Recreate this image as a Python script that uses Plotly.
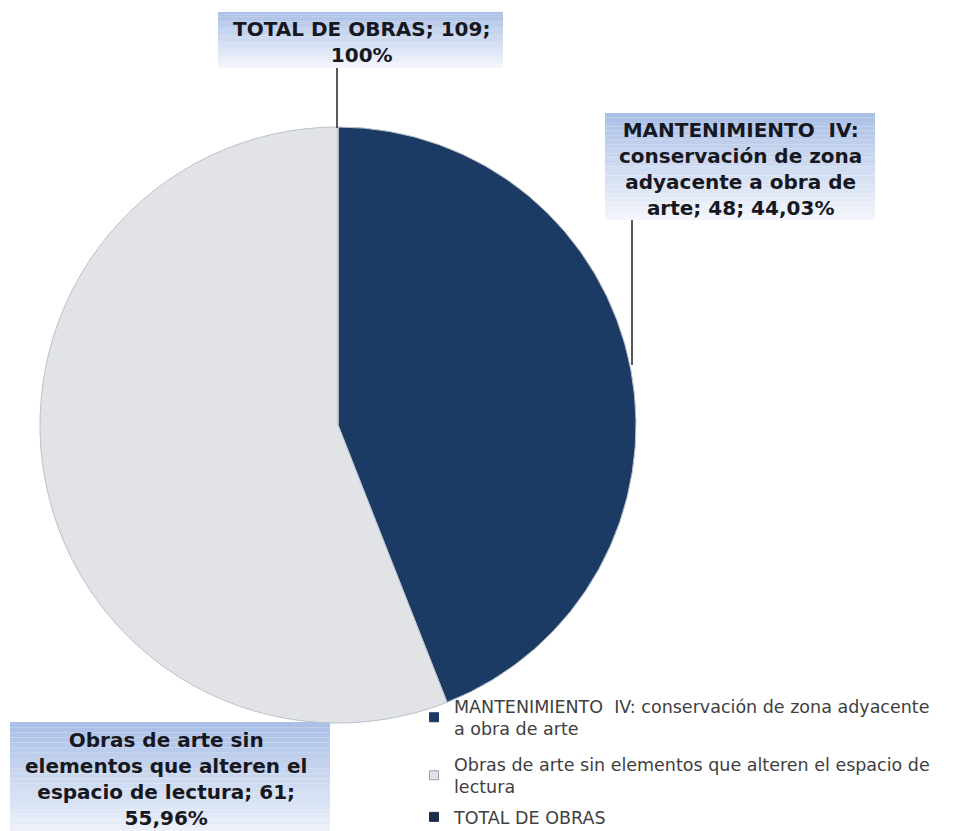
import plotly.graph_objects as go

W, H = 953, 831
OFF = 8  # page body margin of the html output

labels = [
    "MANTENIMIENTO  IV: conservación de zona adyacente<br>a obra de arte",
    "Obras de arte sin elementos que alteren el espacio de<br>lectura",
    "TOTAL DE OBRAS",
]
values = [48, 61, 0]
colors = ["#1b3a64", "#e2e3e6", "#1b2d4a"]

box_texts = [
    "TOTAL DE OBRAS; 109;<br>100%",
    "MANTENIMIENTO  IV:<br>conservación de zona<br>adyacente a obra de<br>arte; 48; 44,03%",
    "Obras de arte sin<br>elementos que alteren el<br>espacio de lectura; 61;<br>55,96%",
]
# label boxes in pixel coords: x0, y0, x1, y1, and text centre
boxes = [(218, 12, 503, 68), (605, 113, 875, 220), (10, 722, 330, 845)]
text_centres = [(361, 42), (740, 169), (166, 779)]


def px(x):
    return (x - OFF) / W


def py(y):
    return 1 - (y - OFF) / H


def mix(c1, c2, t):
    a = [int(c1[i:i + 2], 16) for i in (1, 3, 5)]
    b = [int(c2[i:i + 2], 16) for i in (1, 3, 5)]
    return "#%02x%02x%02x" % tuple(round(a[k] + (b[k] - a[k]) * t) for k in range(3))


fig = go.Figure()
fig.add_trace(go.Pie(
    labels=labels,
    values=values,
    sort=False,
    direction="clockwise",
    rotation=0,
    textinfo="none",
    hoverinfo="label+value+percent",
    showlegend=False,
    marker=dict(colors=colors, line=dict(color="#bac1cc", width=1)),
    domain=dict(x=[px(338 - 299), px(338 + 299)], y=[py(425 + 298), py(425 - 298)]),
))

# legend entries, one legend each so the gaps can follow the original
legend_names = ["legend", "legend2", "legend3"]
legend_tops = [688, 746, 799]
for lab, col, lg in zip(labels, colors, legend_names):
    fig.add_trace(go.Scatter(
        x=[None], y=[None], mode="markers", name=lab, legend=lg,
        marker=dict(symbol="square", size=9, color=col,
                    line=dict(color="#9aa3b3" if col == "#e2e3e6" else col, width=1)),
    ))

shapes = []
annotations = []
for (x0, y0, x1, y1), (tx, ty), txt in zip(boxes, text_centres, box_texts):
    n = 24
    for i in range(n):
        ya = y0 + (y1 - y0) * i / n
        yb = y0 + (y1 - y0) * (i + 1) / n
        shapes.append(dict(type="rect", xref="paper", yref="paper",
                           x0=px(x0), x1=px(x1), y0=py(yb), y1=py(ya),
                           fillcolor=mix("#abc0e6", "#f2f5fb", i / (n - 1)),
                           line=dict(width=0), layer="below"))
    annotations.append(dict(
        xref="paper", yref="paper", x=px(tx), y=py(ty),
        xanchor="center", yanchor="middle", showarrow=False, text="<b>" + txt + "</b>",
        font=dict(family="DejaVu Sans", size=20, color="#17181f"), align="center",
    ))

# leader lines
shapes.append(dict(type="line", xref="paper", yref="paper",
                   x0=px(337), x1=px(337), y0=py(68), y1=py(128),
                   line=dict(color="#222222", width=1.5)))
shapes.append(dict(type="line", xref="paper", yref="paper",
                   x0=px(632), x1=px(632), y0=py(220), y1=py(365),
                   line=dict(color="#222222", width=1.5)))

legend_style = dict(xanchor="left", yanchor="top", bgcolor="rgba(0,0,0,0)",
                    font=dict(family="DejaVu Sans", size=17.5, color="#404040"))

fig.update_layout(
    width=W, height=H,
    margin=dict(l=0, r=0, t=0, b=0),
    paper_bgcolor="white",
    plot_bgcolor="rgba(0,0,0,0)",
    xaxis=dict(visible=False),
    yaxis=dict(visible=False),
    shapes=shapes,
    annotations=annotations,
    legend=dict(x=px(414), y=py(legend_tops[0]), **legend_style),
    legend2=dict(x=px(414), y=py(legend_tops[1]), **legend_style),
    legend3=dict(x=px(414), y=py(legend_tops[2]), **legend_style),
)

fig.write_html("out.html")
